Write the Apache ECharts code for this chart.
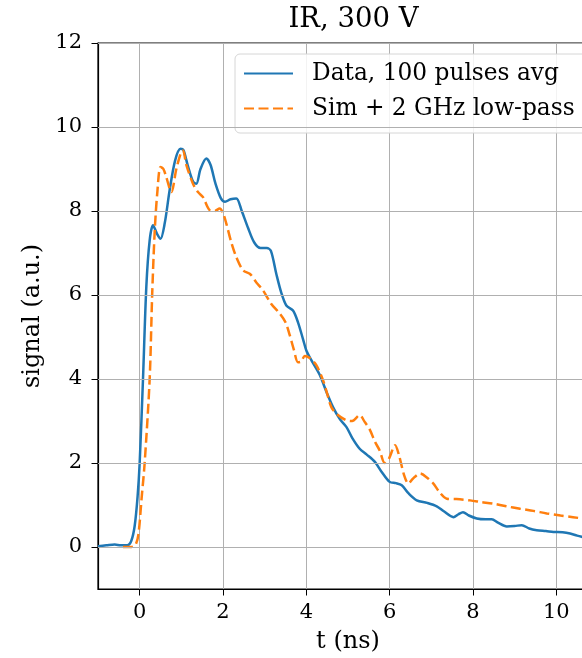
<!DOCTYPE html>
<html>
<head>
<meta charset="utf-8">
<script src="https://cdn.jsdelivr.net/npm/echarts@6/dist/echarts.min.js"></script>
<style>
html,body{margin:0;padding:0;background:#fff;overflow:hidden;}
#chart{width:582px;height:658px;}
</style>
</head>
<body>
<div id="chart"></div>
<script>
// ---- data ----
var titleText = 'IR, 300 V';
var seriesNames = ['Data, 100 pulses avg', 'Sim + 2 GHz low-pass'];
var xTicks = [0, 2, 4, 6, 8, 10];
var yTicks = [0, 2, 4, 6, 8, 10, 12];

var dataT = [-1.0,-0.8,-0.6,-0.45,-0.3,-0.2,-0.12,-0.05,0.0,0.08,0.16,0.24,0.32,0.42,0.50,0.6,0.72,0.85,0.98,1.05,1.15,1.28,1.36,1.46,1.6,1.7,1.82,1.95,2.05,2.18,2.32,2.45,2.6,2.75,2.9,3.05,3.15,3.28,3.4,3.52,3.68,3.8,3.92,4.0,4.12,4.32,4.5,4.64,4.8,4.96,5.1,5.28,5.45,5.65,5.8,6.0,6.15,6.29,6.45,6.65,6.9,7.13,7.3,7.53,7.65,7.76,7.9,8.09,8.3,8.45,8.6,8.81,9.0,9.17,9.35,9.53,9.75,9.93,10.15,10.33,10.5,10.7];
var dataY = [0.02,0.04,0.06,0.04,0.04,0.15,0.5,1.2,2.0,4.0,6.2,7.3,7.66,7.45,7.34,7.7,8.5,9.2,9.48,9.45,9.1,8.7,8.65,9.0,9.25,9.1,8.65,8.3,8.22,8.28,8.3,8.0,7.6,7.25,7.12,7.12,7.05,6.5,6.05,5.75,5.63,5.35,4.95,4.68,4.45,4.1,3.65,3.33,3.05,2.86,2.6,2.34,2.2,2.02,1.8,1.55,1.52,1.47,1.28,1.11,1.05,0.97,0.85,0.71,0.78,0.83,0.75,0.68,0.66,0.66,0.58,0.49,0.5,0.52,0.44,0.40,0.38,0.36,0.35,0.32,0.27,0.22];

var simT = [-0.4,-0.2,-0.1,-0.03,0.05,0.12,0.24,0.3,0.36,0.42,0.5,0.57,0.64,0.76,0.88,1.0,1.04,1.12,1.28,1.4,1.52,1.68,1.8,1.92,2.0,2.08,2.2,2.32,2.48,2.65,2.8,2.96,3.15,3.36,3.5,3.6,3.7,3.8,3.88,3.96,4.08,4.24,4.4,4.5,4.6,4.75,4.96,5.1,5.28,5.4,5.52,5.65,5.76,5.88,5.98,6.13,6.22,6.35,6.45,6.55,6.73,6.9,7.05,7.2,7.37,7.6,7.93,8.2,8.49,8.8,9.13,9.45,9.77,10.1,10.4,10.7];
var simY = [0.0,0.0,0.05,0.3,1.2,2.0,4.0,6.0,7.5,8.4,9.05,9.0,8.8,8.45,9.0,9.42,9.44,9.1,8.65,8.45,8.33,8.02,8.0,8.06,7.95,7.7,7.25,6.9,6.59,6.5,6.3,6.11,5.8,5.56,5.35,5.05,4.7,4.4,4.42,4.55,4.5,4.33,3.97,3.65,3.33,3.15,3.02,3.0,3.14,2.98,2.8,2.5,2.3,2.0,2.1,2.42,2.2,1.7,1.51,1.62,1.75,1.65,1.51,1.3,1.15,1.14,1.11,1.07,1.03,0.97,0.91,0.86,0.80,0.75,0.71,0.67];

function zip(a, b) { return a.map(function (v, i) { return [v, b[i]]; }); }

var FONT = 'DejaVu Serif';
var chart = echarts.init(document.getElementById('chart'), null, {renderer: 'canvas'});
var option = {
  backgroundColor: '#ffffff',
  animation: false,
  title: {
    text: titleText,
    left: 348.5, top: 1, textAlign: 'center',
    textStyle: {fontFamily: FONT, fontSize: 27.5, fontWeight: 'normal', color: '#000'}
  },
  legend: {
    left: 235, top: 54,
    orient: 'vertical',
    itemWidth: 49, itemHeight: 14,
    itemGap: 12,
    padding: [8, 40, 13, 8],
    backgroundColor: 'rgba(255,255,255,0.85)',
    borderColor: '#d6d6d6', borderWidth: 1, borderRadius: 5,
    itemStyle: {opacity: 0},
    textStyle: {fontFamily: FONT, fontSize: 23.3, color: '#000', padding: [0, 0, 0, 14]},
    data: seriesNames
  },
  grid: {left: 98, top: 43, width: 500, height: 546, outerBoundsMode: 'none',
    show: true, borderColor: '#000', borderWidth: 1.2, backgroundColor: 'transparent'},
  xAxis: {
    type: 'value', min: -1, max: 11,
    name: 't (ns)', nameLocation: 'middle', nameGap: 41,
    nameTextStyle: {fontFamily: FONT, fontSize: 24, color: '#000'},
    axisLine: {show: true, onZero: false, lineStyle: {color: '#000', width: 1.2}},
    axisTick: {show: true, length: 6.5, lineStyle: {color: '#000'},
      customValues: xTicks},
    axisLabel: {fontFamily: FONT, fontSize: 21, color: '#000', margin: 13,
      customValues: xTicks},
    splitLine: {show: true, lineStyle: {color: '#b0b0b0', width: 1}}
  },
  yAxis: {
    type: 'value', min: -1, max: 12,
    name: 'signal (a.u.)', nameLocation: 'middle', nameGap: 51, nameRotate: 90,
    nameTextStyle: {fontFamily: FONT, fontSize: 24, color: '#000'},
    axisLine: {show: true, onZero: false, lineStyle: {color: '#000', width: 1.2}},
    axisTick: {show: true, length: 6.5, lineStyle: {color: '#000'},
      customValues: yTicks},
    axisLabel: {fontFamily: FONT, fontSize: 21, color: '#000', margin: 16,
      customValues: yTicks},
    splitLine: {show: false}
  },
  series: [
    {
      name: seriesNames[0], type: 'line', data: zip(dataT, dataY),
      showSymbol: false, symbol: 'none', smooth: 0.3,
      lineStyle: {color: '#1f77b4', width: 2.5},
      itemStyle: {color: '#1f77b4'},
      z: 3
    },
    {
      name: seriesNames[1], type: 'line', data: zip(simT, simY),
      showSymbol: false, symbol: 'none', smooth: 0.3,
      lineStyle: {color: '#ff7f0e', width: 2.5, type: [10, 4.5]},
      itemStyle: {color: '#ff7f0e'},
      z: 4
    },
    {
      // horizontal grid lines at the tick values
      type: 'line', silent: true, data: [],
      markLine: {
        silent: true, symbol: 'none', label: {show: false},
        lineStyle: {color: '#b0b0b0', width: 1, type: 'solid'},
        data: yTicks.map(function (v) { return {yAxis: v}; })
      },
      z: 1
    }
  ]
};
chart.setOption(option);
</script>
</body>
</html>
